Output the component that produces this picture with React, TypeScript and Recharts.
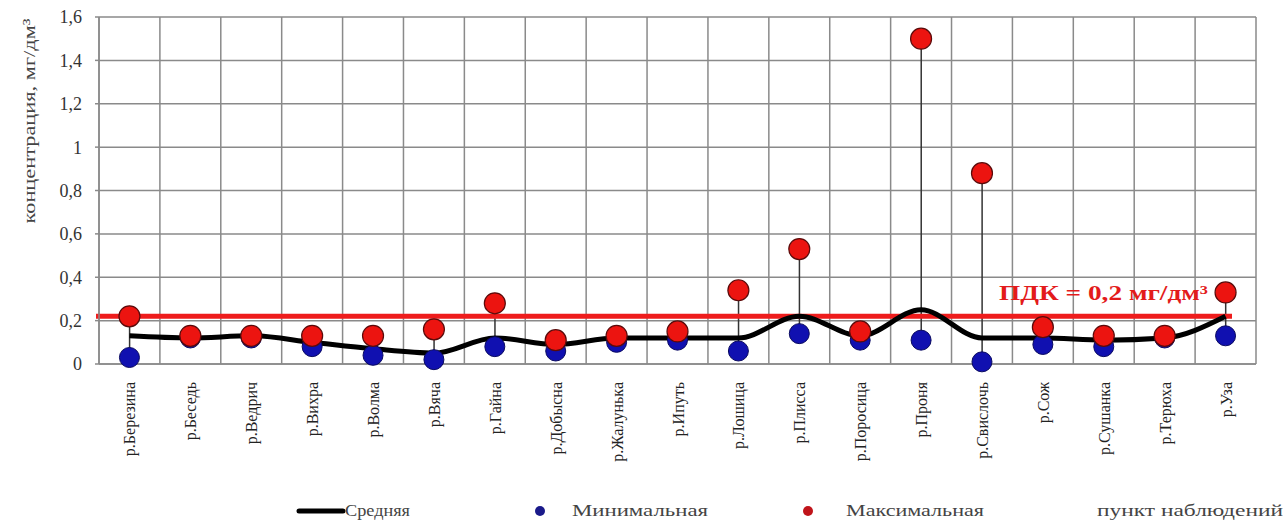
import {
  ComposedChart,
  CartesianGrid,
  XAxis,
  YAxis,
  Bar,
  Line,
  ReferenceLine,
} from 'recharts';

const rivers = [
  'р.Березина', 'р.Беседь', 'р.Ведрич', 'р.Вихра', 'р.Волма', 'р.Вяча',
  'р.Гайна', 'р.Добысна', 'р.Жалунька', 'р.Ипуть', 'р.Лошица', 'р.Плисса',
  'р.Поросица', 'р.Проня', 'р.Свислочь', 'р.Сож', 'р.Сушанка', 'р.Терюха', 'р.Уза',
];
const avgValues = [0.13, 0.12, 0.13, 0.1, 0.07, 0.05, 0.12, 0.09, 0.12, 0.12, 0.12, 0.22, 0.13, 0.25, 0.12, 0.12, 0.11, 0.12, 0.22];
const minValues = [0.03, 0.12, 0.12, 0.08, 0.04, 0.02, 0.08, 0.06, 0.1, 0.11, 0.06, 0.14, 0.11, 0.11, 0.01, 0.09, 0.08, 0.12, 0.13];
const maxValues = [0.22, 0.13, 0.13, 0.13, 0.13, 0.16, 0.28, 0.11, 0.13, 0.15, 0.34, 0.53, 0.15, 1.5, 0.88, 0.17, 0.13, 0.13, 0.33];
const yTicks = [0, 0.2, 0.4, 0.6, 0.8, 1, 1.2, 1.4, 1.6];
const pdkLine = 0.22;
const pdkText = 'ПДК = 0,2 мг/дм³';

const data = rivers.map((name, i) => ({
  name,
  avg: avgValues[i],
  min: minValues[i],
  max: maxValues[i],
  range: [minValues[i], maxValues[i]],
}));

const serif = '"Liberation Serif", "DejaVu Serif", serif';

const RiverTick = ({ x, y, payload }: any) => (
  <text
    x={x}
    y={y}
    transform={`rotate(-90, ${x}, ${y})`}
    dx={-10}
    dy={6}
    textAnchor='end'
    fontSize={16}
    fontFamily={serif}
    fill='#222'
  >
    {payload.value}
  </text>
);

const Stem = ({ x, y, width, height }: any) => (
  <line
    x1={x + width / 2}
    x2={x + width / 2}
    y1={y}
    y2={y + height}
    stroke='#333'
    strokeWidth={1.5}
  />
);

export default function App() {
  return (
    <div style={{ position: 'absolute', left: 0, top: 0, width: 1288, height: 521, background: '#fff' }}>
      <ComposedChart
        width={1288}
        height={521}
        data={data}
        margin={{ top: 17, right: 32, left: 8, bottom: 37 }}
      >
        <CartesianGrid
          stroke='#8a8a8a'
          strokeWidth={1.5}
          verticalCoordinatesGenerator={({ offset }: any) =>
            rivers.map((_, i) => offset.left + (i * offset.width) / rivers.length).concat(offset.left + offset.width)
          }
        />
        <XAxis
          dataKey='name'
          interval={0}
          height={120}
          axisLine={{ stroke: '#8a8a8a', strokeWidth: 1.5 }}
          tickLine={false}
          tick={<RiverTick />}
        />
        <YAxis
          width={91}
          domain={[0, 1.6]}
          ticks={yTicks}
          interval={0}
          tickFormatter={(v) => String(v).replace('.', ',')}
          axisLine={{ stroke: '#8a8a8a', strokeWidth: 1.5 }}
          tickLine={{ stroke: '#8a8a8a', strokeWidth: 1.5 }}
          tickSize={4}
          tickMargin={13}
          tick={{ fontSize: 18, fontFamily: serif, fill: '#333' }}
          label={({ viewBox }: any) => (
            <text
              x={viewBox.x + 21}
              y={121}
              transform={`rotate(-90, ${viewBox.x + 21}, 121)`}
              textAnchor='middle'
              dominantBaseline='central'
              fontSize={17}
              fontFamily={serif}
              fill='#444'
              textLength={205}
              lengthAdjust='spacingAndGlyphs'
            >
              концентрация, мг/дм³
            </text>
          )}
        />
        <ReferenceLine
          y={pdkLine}
          shape={(p: any) => (
            <line x1={p.x1 - 3} x2={p.x2 - 24} y1={p.y1} y2={p.y2} stroke='#ee1c1c' strokeWidth={5} />
          )}
          label={({ viewBox }: any) => (
            <text
              x={viewBox.x + viewBox.width - 257}
              y={viewBox.y - 16}
              fontSize={21}
              fontWeight='bold'
              fontFamily={serif}
              fill='#e31b1b'
              textLength={209}
              lengthAdjust='spacingAndGlyphs'
            >
              {pdkText}
            </text>
          )}
        />
        <Bar dataKey='range' shape={<Stem />} isAnimationActive={false} />
        <Line
          dataKey='min'
          stroke='none'
          dot={{ r: 10, fill: '#1010b0', stroke: '#0a0a60', strokeWidth: 1 }}
          activeDot={false}
          isAnimationActive={false}
        />
        <Line
          dataKey='avg'
          type='monotone'
          stroke='#000'
          strokeWidth={5}
          dot={false}
          activeDot={false}
          isAnimationActive={false}
        />
        <Line
          dataKey='max'
          stroke='none'
          dot={{ r: 10.5, fill: '#ec1410', stroke: '#5a0a0a', strokeWidth: 1.2 }}
          activeDot={false}
          isAnimationActive={false}
        />
      </ComposedChart>

      {/* Legend */}
      <svg width={1288} height={24} style={{ position: 'absolute', left: 0, top: 498 }}>
        <line x1={299} x2={343} y1={13} y2={13} stroke='#000' strokeWidth={5} strokeLinecap='round' />
        <text x={345} y={18} fontSize={16} fontFamily={serif} fill='#444' textLength={65} lengthAdjust='spacingAndGlyphs'>Средняя</text>
        <circle cx={540} cy={13} r={5} fill='#1a1a8a' />
        <text x={572} y={18} fontSize={16} fontFamily={serif} fill='#444' textLength={136} lengthAdjust='spacingAndGlyphs'>Минимальная</text>
        <circle cx={808} cy={13} r={5} fill='#c0141a' />
        <text x={846} y={18} fontSize={16} fontFamily={serif} fill='#444' textLength={138} lengthAdjust='spacingAndGlyphs'>Максимальная</text>
        <text x={1097} y={18} fontSize={16} fontFamily={serif} fill='#444' textLength={186} lengthAdjust='spacingAndGlyphs'>пункт наблюдений</text>
      </svg>
    </div>
  );
}
